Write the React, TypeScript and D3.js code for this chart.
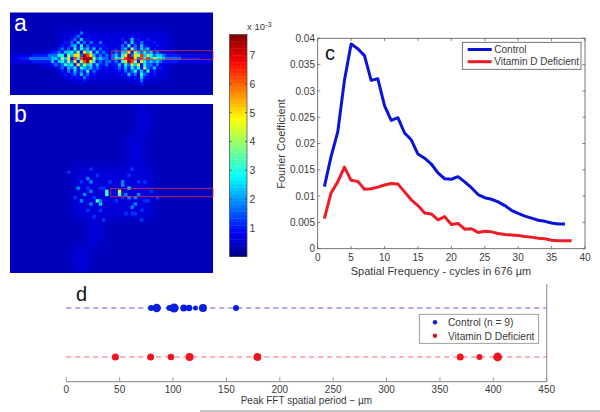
import React from "react";
import * as d3 from "d3";

const W = 600, H = 412;
const FONT = "'Liberation Sans', Arial, sans-serif";

// Line chart series
const controlSeries = [.0118,.0175,.0222,.032,.0389,.038,.0367,.032,.0323,.0272,.0244,.0249,.022,.0207,.018,.0172,.0161,.0144,.0133,.0132,.0137,.0127,.0116,.0103,.0097,.0094,.0089,.0082,.0073,.0067,.0062,.0058,.0054,.0052,.0049,.0047,.0047];
const vitaminDSeries = [.0057,.0106,.0127,.0155,.013,.0128,.0113,.0114,.0117,.0121,.0124,.0123,.0108,.0093,.0082,.0068,.0066,.0055,.0061,.0046,.0048,.0037,.0038,.0031,.0033,.0032,.0029,.0027,.0026,.0025,.0023,.0022,.002,.0019,.0016,.0015,.0015,.0015];
const cXTicks = [0,5,10,15,20,25,30,35,40];
const cYTicks = [0,.005,.01,.015,.02,.025,.03,.035,.04];

// Strip plot: [period, size]
const controlPeaks = [[79.4,3],[84.7,4.2],[96.6,3],[101,4.5],[110,3.5],[115,3.2],[121,2.5],[128,4],[159,3]];
const vitaminDPeaks = [[46,3.5],[79,3.5],[98,3.2],[115.5,4],[179,3.9],[369,3.5],[387,3],[404,4.4]];
const dTicks = [0,50,100,150,200,250,300,350,400,450];

// Colormap
const cbTicks = [1,2,3,4,5,6,7];
const jetStops = ["#000080","#0000ff","#00ffff","#ffff00","#ff0000","#800000"];
const jetDomain = [0,.11,.36,.62,.88,1];
const levelFractions = [.05,.085,.13,.22,.31,.39,.52,.64,.82,.97];
const levelFractionsB = [.05,.08,.16,.24,.33,.42,.55,.64,.82,.97];

// Heatmap a: intensity levels per row
const heatA = [
"",
"",
"",
"",
"",
"0000000000000000000000100000000000000000000000000000000000000000",
"0000000000000000000010301000000000000010100000000000000000000000",
"0000000000000000000123110100000000001021010000000000000000000000",
"0000000000000000010231412010100000020141201210000000000000000000",
"0000000000000000120314231301310001103142130102000000000000000000",
"0000000000000001202341513122120101031513142201200000000000000000",
"0000000000000102313152534241312012134163243412110000000000000000",
"0000000001011223244536274624232123244726435342311010000000000000",
"1111111222223335526477398742323234257937684653443222221111111111",
"1112223333333443647285899963433235468997385846554333332222221111",
"1111111222222424536372689752323323257986275343432222211111111111",
"0000000001011232354527364524223122425364725332311010000000000000",
"0000000000000102314352543423212012324253526324120000000000000000",
"0000000000000000213142325132101001213235242512010000000000000000",
"0000000000000000120231423120100000021423153212000000000000000000",
"0000000000000000010212132010000000010212042101000000000000000000",
"0000000000000000000101021000000000000101031010000000000000000000",
"0000000000000000000000100000000000000001020000000000000000000000",
];
const heatAHalo = [[6,21,16,50]];

// Heatmap b: soft dim regions [row0,row1,col0,col1] and isolated cells [col,row,level]
const heatBHalo = [[20,36,20,45],[0,10,40,44],[10,20,37,42],[36,45,24,29],[45,53,20,25]];
const heatBCells = [[30,28,5],[30,27,5],[34,27,6],[34,28,5],[27,30,5],[28,31,4],[28,30,3],[37,26,4],[35,24,3],[35,25,3],[25,27,3],[21,26,3],[24,23,3],[25,20,2],[25,24,3],[23,28,3],[22,30,3],[25,31,3],[28,26,2],[29,26,2],[40,28,3],[39,29,3],[42,30,2],[39,31,3],[38,32,3],[38,34,2],[39,34,2],[40,24,2],[37,22,2],[38,20,2],[35,29,2],[28,33,2],[26,35,2],[18,21,2],[43,30,2],[46,29,2],[37,29,3],[42,24,2],[36,28,3],[24,26,2],[26,29,2],[31,24,2],[41,33,2],[36,34,2],[24,33,2],[20,29,2],[27,22,2],[33,30,2],[22,24,2],[44,27,2],[41,36,2],[29,36,2]];

const jet = d3.scaleLinear<string>().domain(jetDomain).range(jetStops).interpolate(d3.interpolateRgb);
const cellW = 3.172, cellH = 3.172;
const aBox = { x: 10, y: 12.5, w: 203, h: 82.5 };
const bBox = { x: 10, y: 104, w: 203, h: 169 };

const cx = d3.scaleLinear().domain([0, 40]).range([317.7, 585]);
const cy = d3.scaleLinear().domain([0, .04]).range([248.7, 38.3]);
const dx = d3.scaleLinear().domain([0, 450]).range([66.3, 546.7]);
const cb = d3.scaleLinear().domain([0, 7.72]).range([256.5, 34.5]);
const lineGen = d3.line<number>().x((_, i) => cx(i + 1)).y(v => cy(v));

const Box = ({ b, id }: any) => <clipPath id={id}><rect x={b.x} y={b.y} width={b.w} height={b.h} /></clipPath>;

const Halo = ({ regions, b, fill }: any) => (
  <g filter="url(#halo)">
    {regions.map(([r0, r1, c0, c1]: number[], i: number) => (
      <rect key={i} x={b.x + c0 * cellW} y={b.y + r0 * cellH} width={(c1 - c0) * cellW} height={(r1 - r0) * cellH} fill={fill} />
    ))}
  </g>
);

export default function App() {
  const cbRows = d3.range(0, 64);
  const cbH = (cb(0) - cb(7.72)) / 64;
  const fmt = (v: number) => (v === 0 ? "0" : String(+v.toFixed(3)));
  const tc = "#3a3a3a";
  const axc = "#555";
  return (
    <svg width={W} height={H} viewBox={`0 0 ${W} ${H}`} style={{ position: "absolute", left: 0, top: 0, background: "#fff" }} fontFamily={FONT}>
      <defs>
        <Box b={aBox} id="ca" />
        <Box b={bBox} id="cb" />
        <filter id="soft" x="-5%" y="-5%" width="110%" height="110%"><feGaussianBlur stdDeviation="0.6" /></filter>
        <filter id="halo" x="-30%" y="-30%" width="160%" height="160%"><feGaussianBlur stdDeviation="5" /></filter>
      </defs>

      {/* Panel a */}
      <rect x={aBox.x} y={aBox.y} width={aBox.w} height={aBox.h} fill={jet(levelFractions[0])} />
      <g clipPath="url(#ca)">
        <Halo regions={heatAHalo} b={aBox} fill={jet(levelFractions[1])} />
        <g filter="url(#soft)">
          {heatA.map((row, r) => row.split("").map((ch, c) => ch === "0" ? null : (
            <rect key={`${r}-${c}`} x={aBox.x + c * cellW} y={aBox.y + r * cellH} width={cellW + .2} height={cellH + .2} fill={jet(levelFractions[+ch])} />
          )))}
        </g>
      </g>
      <rect x={111.7} y={50.7} width={101.3} height={8.6} fill="none" stroke="#d03050" strokeOpacity={.8} />
      <text x={14} y={31} fontSize={23} fill="#fff">a</text>

      {/* Panel b */}
      <rect x={bBox.x} y={bBox.y} width={bBox.w} height={bBox.h} fill={jet(levelFractions[0])} />
      <g clipPath="url(#cb)">
        <Halo regions={heatBHalo} b={bBox} fill={jet(levelFractionsB[1])} />
        <g filter="url(#soft)">
          {heatBCells.map(([c, r, l], i) => (
            <rect key={i} x={bBox.x + c * cellW} y={bBox.y + r * cellH} width={cellW + .2} height={cellH + .2} fill={jet(levelFractionsB[l])} />
          ))}
        </g>
      </g>
      <rect x={110.7} y={188.3} width={102.3} height={8.4} fill="none" stroke="#d03050" strokeOpacity={.85} />
      <text x={14} y={122} fontSize={23} fill="#fff">b</text>

      {/* Colorbar */}
      {cbRows.map(i => (
        <rect key={i} x={229.5} y={cb(0) - (i + 1) * cbH} width={17.5} height={cbH + .4} fill={jet((i + .5) / 64)} />
      ))}
      <rect x={229.5} y={34.5} width={17.5} height={222} fill="none" stroke="#444" strokeWidth={.7} />
      {cbTicks.map(t => (
        <g key={t}>
          <line x1={229.5} x2={231.5} y1={cb(t)} y2={cb(t)} stroke="#333" strokeWidth={.7} />
          <line x1={245} x2={247} y1={cb(t)} y2={cb(t)} stroke="#333" strokeWidth={.7} />
          <text x={249.5} y={cb(t) + 4} fontSize={10.5} fill={tc}>{t}</text>
        </g>
      ))}
      <text x={247} y={30} fontSize={9.5} fill={tc}>x 10<tspan dy={-3} fontSize={7.5}>-3</tspan></text>

      {/* Panel c */}
      <rect x={317.7} y={38.3} width={267.3} height={210.4} fill="none" stroke={axc} strokeWidth={.8} />
      {cXTicks.map(t => (
        <g key={t}>
          <line x1={cx(t)} x2={cx(t)} y1={248.7} y2={246} stroke={axc} strokeWidth={.7} />
          <line x1={cx(t)} x2={cx(t)} y1={38.3} y2={41} stroke={axc} strokeWidth={.7} />
          <text x={cx(t)} y={261} fontSize={10} textAnchor="middle" fill={tc}>{t}</text>
        </g>
      ))}
      {cYTicks.map(t => (
        <g key={t}>
          <line x1={317.7} x2={320.4} y1={cy(t)} y2={cy(t)} stroke={axc} strokeWidth={.7} />
          <line x1={585} x2={582.3} y1={cy(t)} y2={cy(t)} stroke={axc} strokeWidth={.7} />
          <text x={315} y={cy(t) + 3.6} fontSize={10} textAnchor="end" fill={tc}>{fmt(t)}</text>
        </g>
      ))}
      <path d={lineGen(controlSeries) || ""} fill="none" stroke="#0a14d8" strokeWidth={3} strokeLinejoin="round" />
      <path d={lineGen(vitaminDSeries) || ""} fill="none" stroke="#ee1c25" strokeWidth={3} strokeLinejoin="round" />
      <text x={325} y={60} fontSize={20} fill="#111">c</text>
      <text x={441} y={275} fontSize={11} textAnchor="middle" fill={tc}>Spatial Frequency - cycles in 676 µm</text>
      <text transform="translate(285,144) rotate(-90)" fontSize={11} textAnchor="middle" fill={tc}>Fourier Coefficient</text>
      <rect x={462.3} y={42.3} width={118.7} height={27} fill="#fff" stroke={axc} strokeWidth={.8} />
      <line x1={467.7} x2={491.7} y1={49.5} y2={49.5} stroke="#0a14d8" strokeWidth={3} />
      <line x1={467.7} x2={491.7} y1={61.7} y2={61.7} stroke="#ee1c25" strokeWidth={3} />
      <text x={494.3} y={53} fontSize={10} fill={tc}>Control</text>
      <text x={494.3} y={65.3} fontSize={10} fill={tc}>Vitamin D Deficient</text>

      {/* Panel d */}
      <line x1={66.3} x2={546.7} y1={308} y2={308} stroke="#5a5ae0" strokeWidth={1.2} strokeDasharray="5 4" />
      <line x1={66.3} x2={546.7} y1={357} y2={357} stroke="#ff6070" strokeWidth={1.2} strokeDasharray="5 4" />
      {controlPeaks.map(([v, r], i) => <circle key={i} cx={dx(v)} cy={308} r={r} fill="#0a1ee0" />)}
      {vitaminDPeaks.map(([v, r], i) => <circle key={i} cx={dx(v)} cy={357} r={r} fill="#f0141e" />)}
      <line x1={66.3} x2={546.7} y1={381.7} y2={381.7} stroke="#999" strokeWidth={1.2} />
      <line x1={546.7} x2={546.7} y1={284} y2={381.7} stroke="#999" strokeWidth={1.2} />
      {dTicks.map(t => (
        <g key={t}>
          <line x1={dx(t)} x2={dx(t)} y1={381.7} y2={377} stroke="#888" strokeWidth={.8} />
          <text x={dx(t)} y={392.5} fontSize={10} textAnchor="middle" fill={tc}>{t}</text>
        </g>
      ))}
      <text x={240.7} y={403.5} fontSize={10} fill={tc}>Peak FFT spatial period − µm</text>
      <text x={76} y={301} fontSize={20} fill="#111">d</text>
      <rect x={419.3} y={314.3} width={119.4} height={29} fill="#fff" stroke="#888" strokeWidth={.8} />
      <circle cx={435} cy={322.3} r={2.2} fill="#0a1ee0" />
      <circle cx={435} cy={335.7} r={2.2} fill="#d81820" />
      <text x={448} y={326} fontSize={10.2} fill={tc}>Control (n = 9)</text>
      <text x={448} y={339.5} fontSize={10.2} fill={tc}>Vitamin D Deficient</text>
      <line x1={200} x2={600} y1={411} y2={411} stroke="#888" strokeWidth={1} />
    </svg>
  );
}
